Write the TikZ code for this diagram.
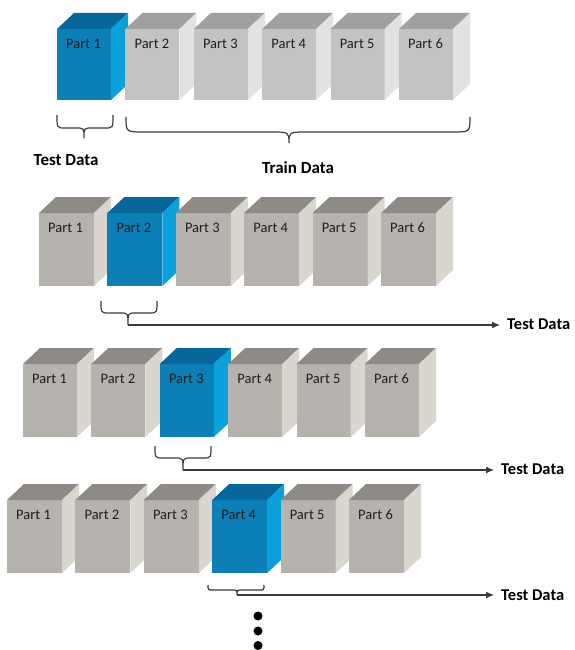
\documentclass[tikz,border=0pt]{standalone}
\usepackage{fontspec}
\setmainfont{Carlito}
\usetikzlibrary{arrows.meta,calc}
\definecolor{g1front}{HTML}{C3C3C3}
\definecolor{g1top}{HTML}{A0A0A0}
\definecolor{g1side}{HTML}{E2E2E2}
\definecolor{g2front}{HTML}{B6B3AE}
\definecolor{g2top}{HTML}{8E8B87}
\definecolor{g2side}{HTML}{D8D6CF}
\definecolor{blfront}{HTML}{0B7FB6}
\definecolor{bltop}{HTML}{08679A}
\definecolor{blside}{HTML}{0AA0DA}
\definecolor{inkc}{HTML}{1E1E1E}
\definecolor{linec}{HTML}{3A3A3A}
\tikzset{
  cubefront/.style={anchor=north west, inner sep=0pt, outer sep=0pt, draw=none},
  partlabel/.style={anchor=west, inner sep=0pt, text=inkc, font=\fontsize{14.5}{16}\selectfont},
  biglabel/.style={inner sep=2pt, text=black, font=\bfseries\fontsize{17}{20}\selectfont},
  bracestyle/.style={draw=linec, line width=1.2pt},
  arrowline/.style={draw=linec, line width=1.2pt, -{Latex[length=8pt,width=7pt]}, shorten >=5pt},
  dotnode/.style={circle, fill=black, inner sep=0pt, minimum size=9pt}
}
\newcommand\cuberow[7]{%
 \foreach \i in {1,...,6}{%
   \pgfmathsetmacro\xx{#2+(\i-1)*68.4}%
   \ifnum\i=#6\relax
     \colorlet{cf}{blfront}\colorlet{ct}{bltop}\colorlet{cs}{blside}%
   \else
     \colorlet{cf}{#7front}\colorlet{ct}{#7top}\colorlet{cs}{#7side}%
   \fi
   \node[cubefront, fill=cf, minimum width=#4pt, minimum height=#5pt] (#1p\i) at (\xx,#3) {};
   \fill[ct] (#1p\i.north west) -- ++(17,-16) -- ++(#4,0) -- (#1p\i.north east) -- cycle;
   \fill[cs] (#1p\i.north east) -- ++(17,-16) -- ++(0,#5) -- (#1p\i.south east) -- cycle;
   \node[partlabel] (#1t\i) at ($(#1p\i.north west)+(9,15)$) {Part \i};
 }}
% x1, x2, xt, top, h, tip, r
\newcommand\mybrace[7]{%
 \draw[bracestyle] (#1,#4) .. controls (#1,#5) .. ({#1+#7},#5) -- ({#3-#7},#5)
   .. controls (#3,#5) .. (#3,#6) .. controls (#3,#5) .. ({#3+#7},#5)
   -- ({#2-#7},#5) .. controls (#2,#5) .. (#2,#4);}
\begin{document}
\begin{tikzpicture}[x=1pt,y=-1pt]
\useasboundingbox (0,0) rectangle (574,650);
\fill[white] (0,0) rectangle (574,650);
% row 1
\cuberow{ra}{57}{29}{54}{71}{1}{g1}
\mybrace{57}{113}{84}{115}{128}{138}{8}
\mybrace{126}{470}{289}{117}{132}{143}{18}
\node[biglabel] (testA) at (66,160) {Test Data};
\node[biglabel] (trainA) at (298,168) {Train Data};
% row 2
\cuberow{rb}{39}{213}{55}{73}{2}{g2}
\mybrace{101}{157}{128}{301}{313}{325}{8}
\coordinate (tipB) at (128,325);
\node[biglabel, anchor=west, font=\bfseries\fontsize{16.5}{20}\selectfont] (testB) at (505,324) {Test Data};
\draw[arrowline] (tipB) -- (tipB -| testB.west);
% row 3
\cuberow{rc}{23}{364}{54}{73}{3}{g2}
\mybrace{155}{211}{183}{446}{458}{470}{8}
\coordinate (tipC) at (183,470);
\node[biglabel, anchor=west, font=\bfseries\fontsize{16.5}{20}\selectfont] (testC) at (499,469) {Test Data};
\draw[arrowline] (tipC) -- (tipC -| testC.west);
% row 4
\cuberow{rd}{7}{500}{55}{73}{4}{g2}
\mybrace{208}{264}{237}{585}{590}{595}{5}
\coordinate (tipD) at (237,595);
\node[biglabel, anchor=west, font=\bfseries\fontsize{16.5}{20}\selectfont] (testD) at (499,595) {Test Data};
\draw[arrowline] (tipD) -- (tipD -| testD.west);
% dots
\node[dotnode] (dot1) at (258,616) {};
\node[dotnode] (dot2) at (258,631) {};
\node[dotnode] (dot3) at (258,645.5) {};
\end{tikzpicture}
\end{document}
